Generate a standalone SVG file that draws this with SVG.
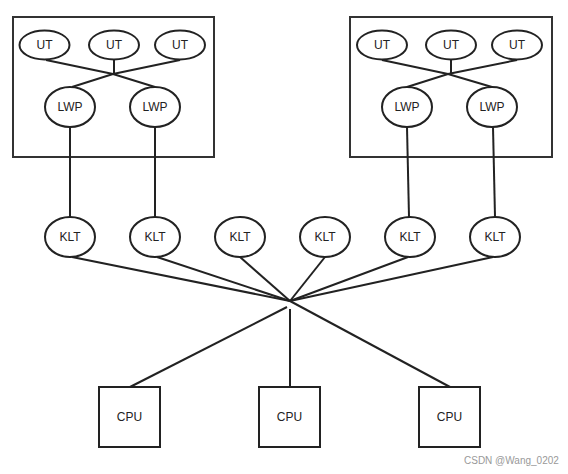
<svg xmlns="http://www.w3.org/2000/svg" width="568" height="474" viewBox="0 0 568 474">
<style>
.bg{fill:#ffffff}
.box{fill:none;stroke:#333333;stroke-width:2}
.node ellipse{fill:#ffffff;stroke:#222222;stroke-width:2}
.node rect{fill:#ffffff;stroke:#222222;stroke-width:2}
.lbl{font-family:"Liberation Sans",Arial,sans-serif;font-size:12px;fill:#222222;text-anchor:middle;dominant-baseline:central}
.edge{fill:none;stroke:#222222;stroke-width:2}
.wm{font-family:"Liberation Sans",Arial,sans-serif;font-size:10px;fill:#999999}
</style>
<rect class="bg" x="0" y="0" width="568" height="474"/>
<rect class="box" x="13" y="17" width="201" height="140"/>
<rect class="box" x="350" y="17" width="202" height="140"/>
<g id="connectors">
<polyline class="edge" points="46,60 113,74 155,87"/>
<polyline class="edge" points="180,60 113,74 72,87"/>
<line class="edge" x1="114" y1="60" x2="114" y2="74"/>
<polyline class="edge" points="382,60 448,74 492,87"/>
<polyline class="edge" points="517,60 448,74 407,87"/>
<line class="edge" x1="451" y1="60" x2="451" y2="74"/>
<line class="edge" x1="70" y1="127" x2="70" y2="217"/>
<line class="edge" x1="155" y1="127" x2="155" y2="217"/>
<line class="edge" x1="407" y1="127" x2="409" y2="217"/>
<line class="edge" x1="493" y1="127" x2="495" y2="217"/>
<line class="edge" x1="72" y1="257" x2="290" y2="301"/>
<line class="edge" x1="157" y1="257" x2="290" y2="301"/>
<line class="edge" x1="240" y1="257" x2="290" y2="301"/>
<line class="edge" x1="325" y1="257" x2="290" y2="301"/>
<line class="edge" x1="408" y1="257" x2="290" y2="301"/>
<line class="edge" x1="493" y1="257" x2="290" y2="301"/>
<line class="edge" x1="287" y1="307" x2="130" y2="387"/>
<line class="edge" x1="290" y1="309" x2="290" y2="387"/>
<line class="edge" x1="290" y1="301" x2="450" y2="387"/>
</g>
<g id="ut1" class="node"><ellipse cx="44.5" cy="45" rx="25" ry="14.5"/><text class="lbl" x="44.5" y="45">UT</text></g>
<g id="ut2" class="node"><ellipse cx="114" cy="45" rx="25" ry="14.5"/><text class="lbl" x="114" y="45">UT</text></g>
<g id="ut3" class="node"><ellipse cx="180" cy="45" rx="25" ry="14.5"/><text class="lbl" x="180" y="45">UT</text></g>
<g id="lwp1" class="node"><ellipse cx="70" cy="107" rx="25" ry="20"/><text class="lbl" x="70" y="107">LWP</text></g>
<g id="lwp2" class="node"><ellipse cx="155" cy="107" rx="25" ry="20"/><text class="lbl" x="155" y="107">LWP</text></g>
<g id="ut4" class="node"><ellipse cx="382" cy="45" rx="25" ry="14.5"/><text class="lbl" x="382" y="45">UT</text></g>
<g id="ut5" class="node"><ellipse cx="451" cy="45" rx="25" ry="14.5"/><text class="lbl" x="451" y="45">UT</text></g>
<g id="ut6" class="node"><ellipse cx="517" cy="45" rx="25" ry="14.5"/><text class="lbl" x="517" y="45">UT</text></g>
<g id="lwp3" class="node"><ellipse cx="407" cy="107" rx="25" ry="20"/><text class="lbl" x="407" y="107">LWP</text></g>
<g id="lwp4" class="node"><ellipse cx="492" cy="107" rx="25" ry="20"/><text class="lbl" x="492" y="107">LWP</text></g>
<g id="klt1" class="node"><ellipse cx="70" cy="237" rx="25" ry="20"/><text class="lbl" x="70" y="237">KLT</text></g>
<g id="klt2" class="node"><ellipse cx="155" cy="237" rx="25" ry="20"/><text class="lbl" x="155" y="237">KLT</text></g>
<g id="klt3" class="node"><ellipse cx="240" cy="237" rx="25" ry="20"/><text class="lbl" x="240" y="237">KLT</text></g>
<g id="klt4" class="node"><ellipse cx="325" cy="237" rx="25" ry="20"/><text class="lbl" x="325" y="237">KLT</text></g>
<g id="klt5" class="node"><ellipse cx="410" cy="237" rx="25" ry="20"/><text class="lbl" x="410" y="237">KLT</text></g>
<g id="klt6" class="node"><ellipse cx="495" cy="237" rx="25" ry="20"/><text class="lbl" x="495" y="237">KLT</text></g>
<g id="cpu1" class="node"><rect x="99" y="387" width="61" height="60"/><text class="lbl" x="129.5" y="417">CPU</text></g>
<g id="cpu2" class="node"><rect x="259" y="387" width="61" height="60"/><text class="lbl" x="289.5" y="417">CPU</text></g>
<g id="cpu3" class="node"><rect x="419" y="387" width="61" height="60"/><text class="lbl" x="449.5" y="417">CPU</text></g>
<text class="wm" x="464" y="464">CSDN @Wang_0202</text>
</svg>
